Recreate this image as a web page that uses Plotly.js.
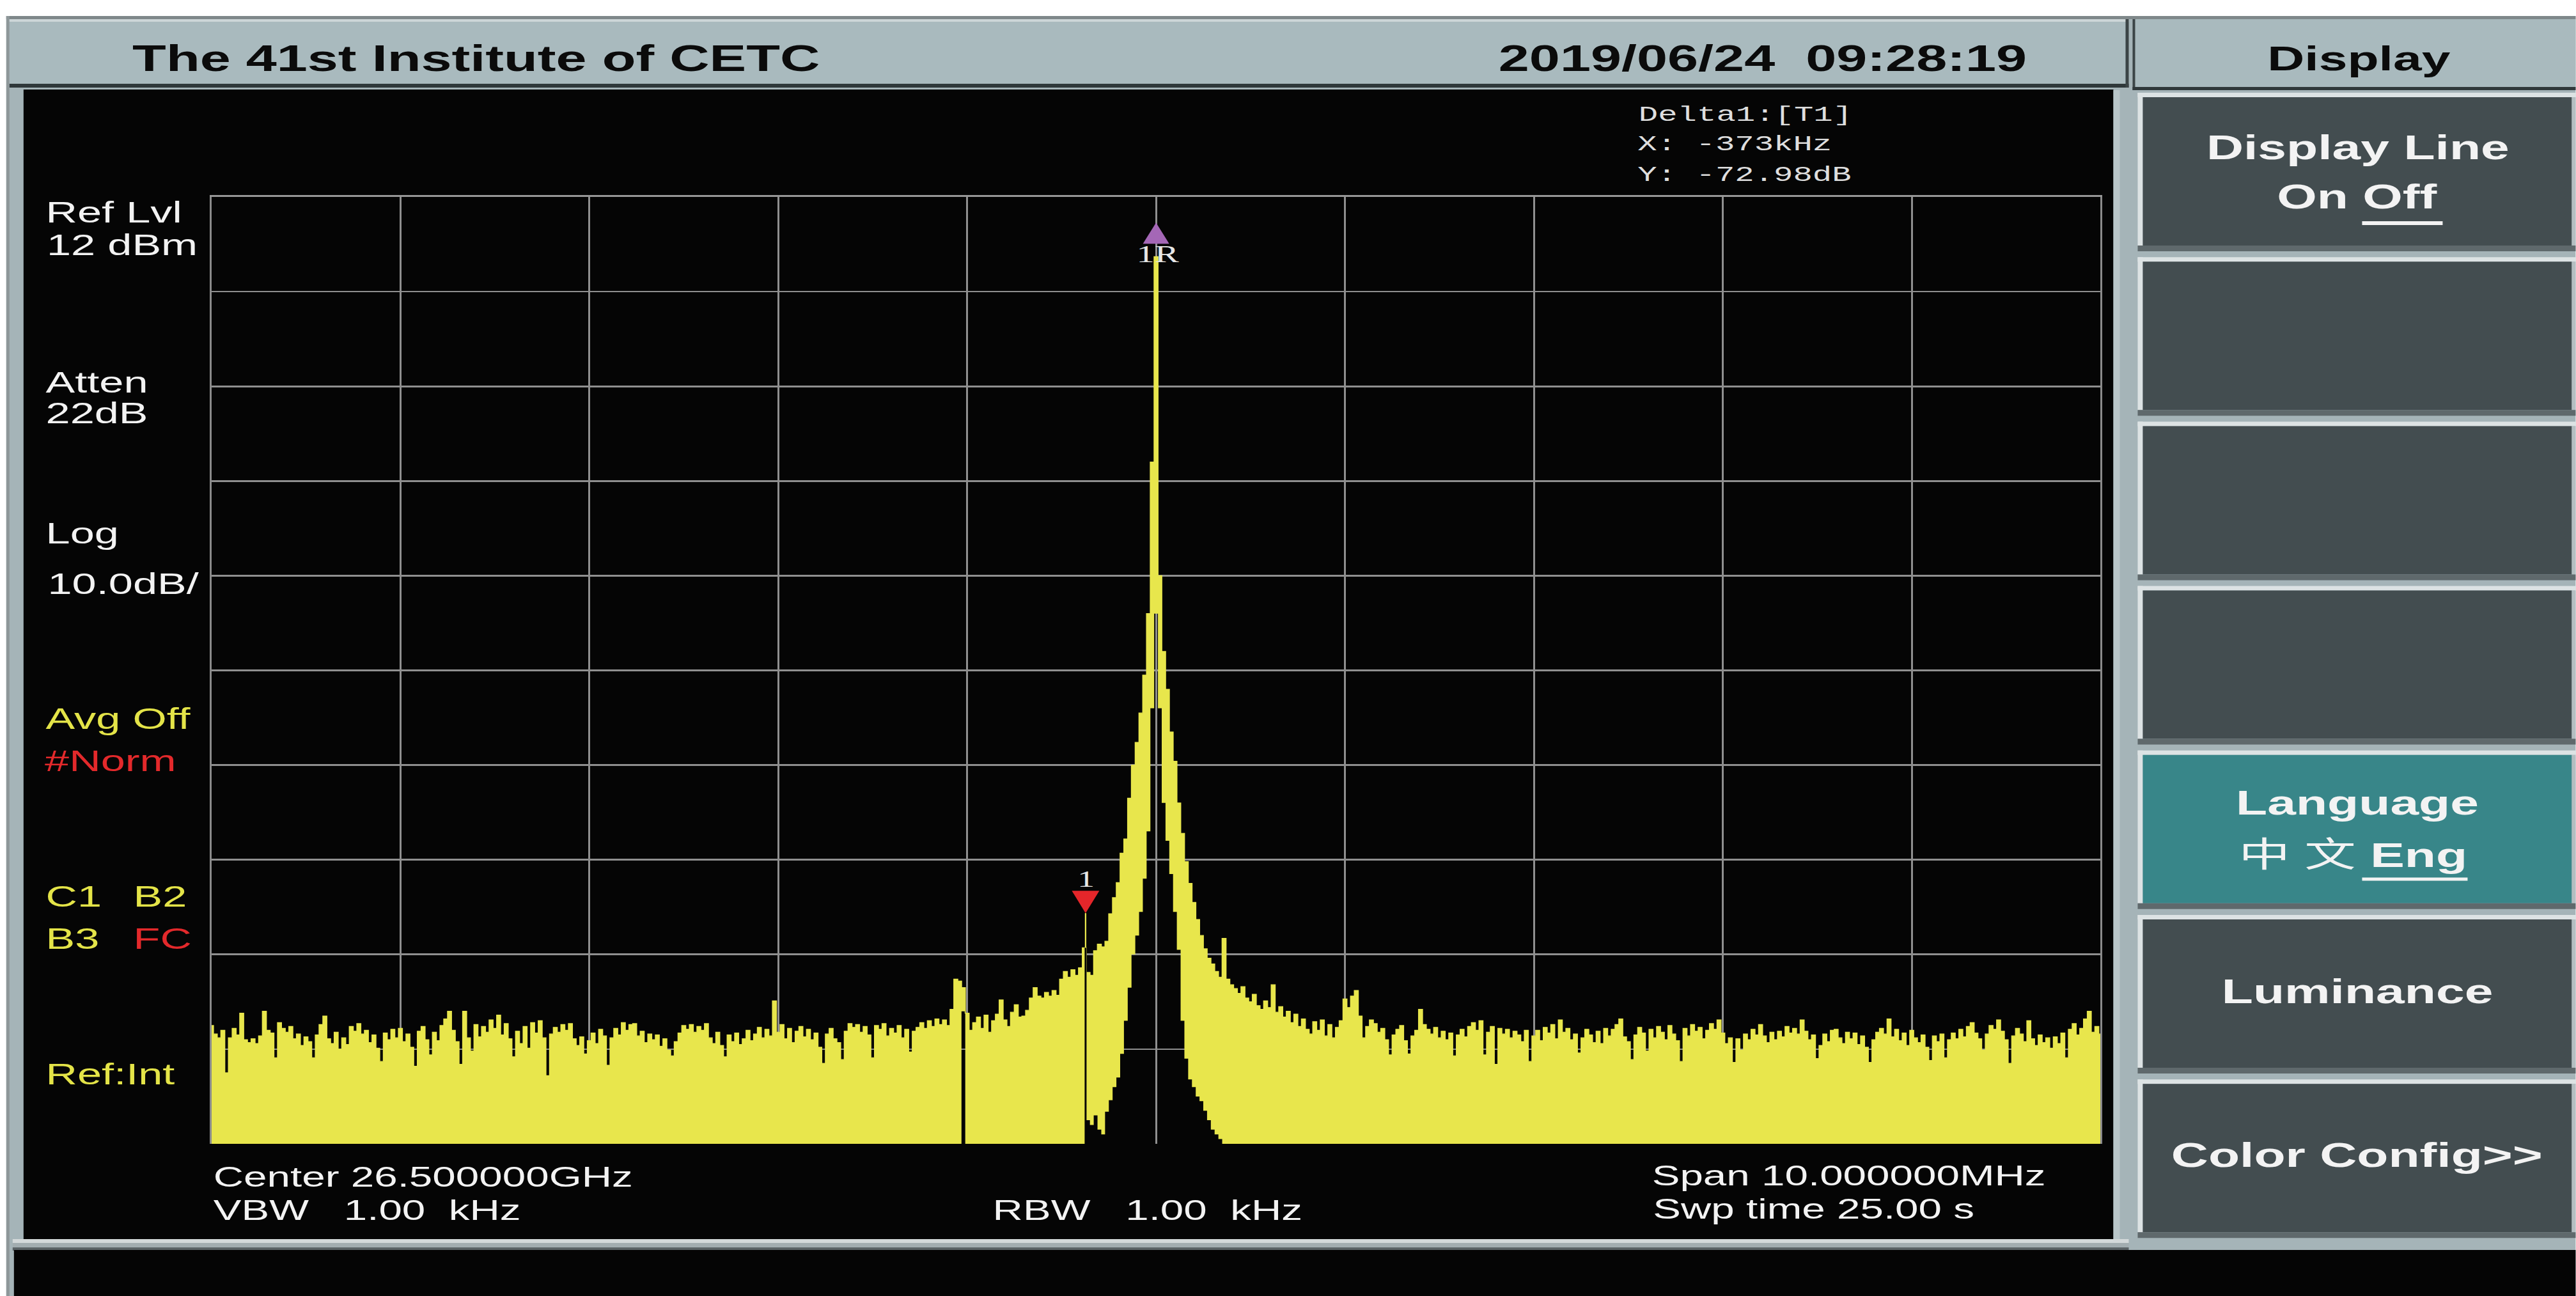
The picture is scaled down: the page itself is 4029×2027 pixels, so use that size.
<!DOCTYPE html>
<html>
<head>
<meta charset="utf-8">
<script src="https://cdn.plot.ly/plotly-3.0.1.min.js"></script>
<style>
html,body{margin:0;padding:0;background:#ffffff;overflow:hidden}
#wrap{width:4029px;height:2027px;overflow:hidden;position:relative}
#chart{width:2704px;height:2027px;position:absolute;left:0;top:0;transform-origin:0 0}
</style>
</head>
<body>
<div id="wrap"><div id="chart"></div></div>
<script>
const centerGHz = 26.5;
const spanMHz = 10;
const refLevelDbm = 12;
const dbPerDiv = 10;
const sweepStartMHz = -5;
const sweepStepMHz = 0.02;
const sweepTimeS = 25;
const rbwKHz = 1;
const vbwKHz = 1;

// upper envelope of the trace, dBm, one value per sweep point
const levelLeft = [
 -75.5,-76.4,-76.8,-76.0,-80.5,-76.8,-75.8,-76.5,-74.2,-77.0,
 -77.3,-76.9,-77.4,-76.6,-74.0,-76.0,-76.3,-78.9,-75.2,-75.8,
 -76.2,-75.6,-76.9,-76.4,-77.6,-76.7,-77.2,-78.9,-76.5,-75.4,
 -74.5,-76.9,-77.4,-76.2,-78.0,-76.8,-77.5,-75.6,-76.1,-75.3,
 -76.4,-76.0,-77.3,-76.5,-77.9,-79.3,-76.3,-77.0,-75.9,-76.8,
 -75.8,-77.2,-76.4,-77.8,-79.8,-76.1,-75.6,-77.0,-78.6,-76.2,
 -77.1,-75.5,-74.8,-74.0,-76.0,-77.2,-79.6,-74.0,-76.8,-78.2,
 -75.4,-76.7,-75.6,-76.2,-74.9,-75.8,-74.4,-76.5,-75.3,-76.9,
 -78.8,-76.1,-77.4,-75.6,-77.9,-75.2,-76.3,-75.0,-76.8,-80.8,
 -76.4,-75.7,-76.2,-75.4,-76.0,-75.3,-76.9,-77.6,-76.7,-78.5,
 -77.1,-76.3,-77.4,-75.9,-76.6,-79.7,-76.8,-75.8,-76.5,-75.2,
 -76.0,-75.4,-75.3,-76.6,-76.1,-77.3,-76.4,-77.0,-76.5,-77.7,
 -76.9,-78.1,-78.7,-77.2,-76.3,-75.5,-75.9,-75.4,-76.2,-75.6,
 -76.0,-75.3,-76.8,-77.4,-76.2,-77.6,-78.8,-76.5,-77.2,-76.3,
 -77.5,-76.9,-76.0,-77.1,-76.4,-75.7,-76.8,-75.9,-76.6,-72.9,
 -76.2,-75.4,-76.9,-75.8,-77.3,-76.1,-75.6,-76.7,-75.9,-77.0,
 -76.3,-77.8,-79.5,-76.4,-75.8,-76.9,-77.3,-79.1,-76.1,-75.3,
 -75.7,-75.4,-76.2,-75.6,-76.5,-78.9,-75.5,-75.9,-75.3,-76.6,
 -75.8,-76.3,-75.5,-76.8,-75.9,-78.3,-76.1,-75.7,-75.2,-75.8,
 -75.0,-75.6,-74.8,-75.4,-74.9,-75.5,-73.8,-70.6,-70.8,-71.5,
 -74.2,-76.0,-75.2,-74.6,-75.8,-74.4,-76.2,-75.0,-74.3,-72.8,
 -74.9,-75.6,-74.1,-73.3,-74.6
];
const levelCarrier = [
 -74.5,-73.9,-72.6,-71.5,-72.4,-72.6,-72.0,-72.4,-71.8,-72.3,
 -70.6,-69.8,-70.4,-69.6,-70.2,-69.4,-67.3,-69.9,-70.2,-67.6,
 -66.9,-67.2,-66.6,-63.7,-62.0,-60.4,-57.3,-55.8,-51.5,-48.0,
 -45.6,-42.5,-38.5,-32.0,-16.0,5.7,-28.0,-36.0,-40.0,-44.5,
 -47.6,-52.0,-55.2,-58.2,-60.5,-62.5,-64.3,-66.0,-67.4,-68.4,
 -69.0,-69.8,-70.4,-66.3,-70.6,-71.2,-71.6,-72.1,-71.4,-72.6,
 -73.0,-72.2,-73.4,-73.8,-72.9,-73.6,-71.2,-74.1,-73.5,-74.6,
 -74.0,-75.2,-74.3,-75.6,-74.8,-75.9,-76.4,-75.1,-76.0,-74.9,
 -76.6,-75.4,-76.8,-75.7,-75.0,-72.7,-73.6,-72.4,-71.8,-74.5
];
const levelRight = [
 -76.8,-75.6,-74.9,-75.3,-76.2,-75.8,-77.0,-78.6,-76.5,-75.9,
 -75.5,-77.1,-78.5,-76.6,-76.0,-73.8,-75.4,-75.9,-76.4,-75.7,
 -76.8,-76.1,-77.0,-76.3,-78.7,-76.5,-75.9,-76.7,-75.6,-75.2,
 -76.0,-75.0,-78.6,-76.2,-75.6,-79.6,-75.8,-76.4,-75.9,-76.8,
 -76.1,-76.5,-77.2,-76.0,-79.3,-76.6,-76.0,-77.1,-75.7,-76.3,
 -75.4,-76.9,-74.9,-76.2,-75.8,-77.0,-76.4,-78.4,-76.8,-75.9,
 -76.5,-77.3,-76.1,-77.4,-75.8,-76.6,-75.9,-75.4,-74.8,-76.7,
 -77.2,-79.1,-76.5,-75.7,-76.3,-78.2,-75.9,-76.8,-75.6,-76.2,
 -77.0,-75.5,-76.4,-77.1,-79.3,-75.8,-76.6,-75.4,-76.1,-75.7,
 -76.9,-76.0,-75.3,-75.9,-74.9,-76.3,-77.4,-76.8,-79.4,-76.9,
 -78.1,-76.4,-77.0,-75.9,-76.5,-75.4,-76.6,-77.3,-76.2,-77.0,
 -76.1,-76.7,-75.6,-76.3,-75.8,-76.4,-74.9,-76.1,-77.0,-76.5,
 -79.0,-77.6,-76.4,-77.2,-76.0,-75.9,-76.8,-77.4,-76.2,-76.9,
 -76.3,-77.5,-76.6,-77.8,-79.4,-77.0,-76.2,-75.8,-76.4,-74.8,
 -76.7,-75.9,-77.1,-76.3,-77.6,-76.0,-76.8,-77.3,-76.5,-77.8,
 -79.2,-76.6,-77.2,-76.4,-78.9,-77.0,-76.3,-76.9,-75.9,-76.7,
 -75.6,-75.2,-76.3,-76.9,-78.1,-76.4,-75.5,-75.9,-74.9,-76.1,
 -77.0,-79.5,-76.6,-75.8,-76.4,-77.2,-75.0,-76.9,-77.6,-76.5,
 -77.3,-76.8,-77.9,-76.7,-77.4,-76.3,-78.9,-75.9,-75.3,-76.5,
 -75.8,-74.8,-74.0,-76.2,-75.6,-76.4
];
// lower envelope of the trace (black gap under the carrier), dBm
const floorFreqMHz = [
 -5,-1.04,-1.02,-1.00,-0.40,-0.38,
 -0.36,-0.34,-0.32,-0.30,-0.28,-0.26,-0.24,-0.22,-0.20,-0.18,
 -0.16,-0.14,-0.12,-0.10,-0.08,-0.06,-0.04,-0.02,0,0.02,
 0.04,0.06,0.08,0.10,0.12,0.14,0.16,0.18,0.20,0.22,
 0.24,0.26,0.28,0.30,0.32,0.34,0.36,0.38,5
];
const floorLevelDbm = [
 -100,-100,-74.0,-100,-100,-100,
 -85.5,-86.0,-85.0,-86.5,-87.0,-84.6,-83.4,-82.0,-81.0,-78.5,
 -75.0,-71.5,-68.0,-66.0,-63.5,-60.0,-55.0,-42.0,-32.0,-42.0,
 -52.0,-56.0,-59.5,-63.5,-67.5,-75.0,-79.0,-81.2,-82.0,-83.0,
 -83.5,-84.5,-85.5,-86.5,-87.0,-87.5,-88.5,-100,-100
];
// markers: reference (1R) and delta marker (1)
const markerFreqMHz = [0, -0.373];
const markerLevelDbm = [5.70, -67.28];
const markerNames = ['1R', '1'];

// ---------------- geometry helpers ----------------
const FW = 4029, FH = 2027, W0 = 2704;
const S = FW / W0;                       // the screen capture is stretched horizontally
document.getElementById('chart').style.transform = 'scaleX(' + S + ')';
const PL = 331, PR = 3286, PT = 308, PB = 1789;   // plot area in picture pixels
const px = X => (X - PL) / (PR - PL);
const py = Y => (PB - Y) / (PB - PT);

const traceLevel = levelLeft.concat(levelCarrier, levelRight);
const traceFreq = traceLevel.map((_, i) => +(sweepStartMHz + i * sweepStepMHz).toFixed(3));
const yTop = refLevelDbm, yBottom = refLevelDbm - 10 * dbPerDiv;

const YEL = '#e8e64c', YTXT = '#e4e448', RED = '#e3292b', WHITE = '#f3f3f3';
const SANS = 'Liberation Sans, Arial, sans-serif';
const MONO = 'Liberation Mono, Courier New, monospace';
const SERIF = 'Liberation Serif, Times New Roman, serif';
const CJK = 'Liberation Sans, Noto Sans CJK SC, sans-serif';

// ---------------- traces ----------------
const data = [
  {x: floorFreqMHz, y: floorLevelDbm, type: 'scatter', mode: 'lines',
   line: {width: 0, shape: 'hvh', color: YEL}, hoverinfo: 'skip', showlegend: false},
  {x: traceFreq, y: traceLevel, type: 'scatter', mode: 'lines', fill: 'tonexty', fillcolor: YEL,
   line: {width: 1.2, shape: 'hvh', color: YEL}, hoverinfo: 'skip', showlegend: false},
  {x: [markerFreqMHz[1], markerFreqMHz[1]], y: [yBottom - 5, markerLevelDbm[1]], type: 'scatter', mode: 'lines',
   line: {width: 2, color: '#050505'}, hoverinfo: 'skip', showlegend: false}
];

// ---------------- screen furniture ----------------
const shapes = [];
function R(X0, Y0, X1, Y1, c) {
  shapes.push({type: 'rect', xref: 'paper', yref: 'paper', x0: px(X0), x1: px(X1), y0: py(Y1), y1: py(Y0),
               fillcolor: c, line: {width: 0}, layer: 'below'});
}
const FRAME = '#a5b4b8', HEAD = '#a9babe', DARK = '#2f383a', BLACK = '#050505';
const BTN = '#434d50', TEAL = '#388689';
R(10, 25, FW, FH, FRAME);
R(10, 25, FW, 30, '#7f888a');
R(10, 25, 15, FH, '#8e9799');
R(15, 30, 3330, 137, HEAD);
R(15, 30, 3330, 34, '#cdd6d8');
R(15, 131, 3330, 137, DARK);
R(3325, 30, 3330, 137, '#3b4446');
R(3336, 30, FW, 141, HEAD);
R(3336, 30, 3340, 141, '#3b4446');
R(3336, 136, FW, 141, DARK);
R(37, 140, 3306, 1938, BLACK);
R(3306, 141, 3316, 1952, '#bac7ca');
R(20, 1938, 3330, 1944, '#d3d9da');
R(20, 1944, 3330, 1951, '#a2adb0');
R(20, 1951, 3330, 1956, '#5a6366');
R(22, 1955, FW, FH, BLACK);
for (let i = 0; i < 7; i++) {
  const top = 152 + 257.2 * i, bot = top + 232;
  R(3344, top - 7, FW, top, '#dde3e4');
  R(3344, top - 7, 3352, bot, '#dde3e4');
  R(3352, top, 4023, bot, i === 4 ? TEAL : BTN);
  R(4023, top, FW, bot, '#b4bec1');
  R(3344, bot, FW, bot + 9, '#5f696c');
}
function HL(X0, X1, Y, w) {
  shapes.push({type: 'line', xref: 'paper', yref: 'paper', x0: px(X0), x1: px(X1), y0: py(Y), y1: py(Y),
               line: {color: WHITE, width: w}, layer: 'below'});
}
HL(3695, 3821, 349, 6);     // underline "Off"
HL(3695, 3860, 1375, 5);    // underline "Eng"

// marker symbols (pixel-sized, anchored on the marker data points)
shapes.push({type: 'path', xref: 'x', yref: 'y', xsizemode: 'pixel', ysizemode: 'pixel',
  xanchor: markerFreqMHz[1], yanchor: markerLevelDbm[1], path: 'M-14.4,89L14.4,89L0,54Z',
  fillcolor: '#e5262a', line: {width: 0}, layer: 'above'});
shapes.push({type: 'line', xref: 'x', yref: 'y', ysizemode: 'pixel', yanchor: markerLevelDbm[1],
  x0: markerFreqMHz[1], x1: markerFreqMHz[1], y0: 0, y1: 54, line: {color: YEL, width: 1.5}, layer: 'above'});
shapes.push({type: 'path', xref: 'x', yref: 'y', xsizemode: 'pixel', ysizemode: 'pixel',
  xanchor: markerFreqMHz[0], yanchor: markerLevelDbm[0], path: 'M-13.8,20L13.8,20L0,53Z',
  fillcolor: '#a467b6', line: {width: 0}, layer: 'above'});

// ---------------- texts ----------------
const annotations = [];
function T(text, X, Yc, size, color, anchor, family) {
  annotations.push({text: text, xref: 'paper', yref: 'paper', x: px(X), y: py(Yc),
    xanchor: anchor || 'left', yanchor: 'middle', align: anchor === 'center' ? 'center' : 'left',
    showarrow: false, borderpad: 0, font: {family: family || SANS, size: size, color: color}});
}
const NB = '\u00a0';
T('<b>The 41st Institute of CETC</b>', 206, 90.5, 58, '#0b0b0b');
T('<b>2019/06/24' + NB + NB + '09:28:19</b>', 2343, 90.5, 58, '#0b0b0b');
T('<b>Display</b>', 3690, 91.5, 54, '#0b0b0b', 'center');
T('<b>Display Line</b>', 3688, 230, 54, WHITE, 'center');
T('<b>On Off</b>', 3688, 307, 54, WHITE, 'center');
T('<b>Language</b>', 3688, 1255, 54, WHITE, 'center');
T('中' + NB + '文' + NB + '<b>Eng</b>', 3681, 1337, 54, WHITE, 'center', CJK);
T('<b>Luminance</b>', 3688, 1550, 54, WHITE, 'center');
T('<b>Color Config&gt;&gt;</b>', 3687, 1806, 54, WHITE, 'center');

T('Ref Lvl', 70, 332, 46, WHITE);
T(refLevelDbm + ' dBm', 72, 383, 46, WHITE);
T('Atten', 70, 598, 46, WHITE);
T('22dB', 70, 646, 46, WHITE);
T('Log', 70, 834, 46, WHITE);
T(dbPerDiv.toFixed(1) + 'dB/', 73, 913, 46, WHITE);
T('Avg Off', 70, 1124, 46, YTXT);
T('#Norm', 68, 1190, 46, RED);
T('C1', 70, 1402, 46, YTXT);
T('B2', 208, 1402, 46, YTXT);
T('B3', 70, 1468, 46, YTXT);
T('FC', 208, 1468, 46, RED);
T('Ref:Int', 70, 1680, 46, YTXT);

T('Center ' + centerGHz.toFixed(6) + 'GHz', 332, 1840, 44, WHITE);
T('VBW' + NB + NB + NB + vbwKHz.toFixed(2) + NB + NB + 'kHz', 333, 1892, 44, WHITE);
T('RBW' + NB + NB + NB + rbwKHz.toFixed(2) + NB + NB + 'kHz', 1552, 1892, 44, WHITE);
T('Span ' + spanMHz.toFixed(6) + 'MHz', 2583, 1838, 44, WHITE);
T('Swp time ' + sweepTimeS.toFixed(2) + ' s', 2584, 1891, 44, WHITE);

const dxK = Math.round((markerFreqMHz[1] - markerFreqMHz[0]) * 1000);
const dyDb = (markerLevelDbm[1] - markerLevelDbm[0]).toFixed(2);
T('Delta1:[T1]', 2562, 180, 34, '#dedede', 'left', MONO);
T('X:' + NB + dxK + 'kHz', 2560, 226, 34, '#dedede', 'left', MONO);
T('Y:' + NB + dyDb + 'dB', 2560, 274, 34, '#dedede', 'left', MONO);

annotations.push({text: markerNames[0], xref: 'x', yref: 'y', x: markerFreqMHz[0], y: markerLevelDbm[0],
  xshift: 2, yshift: 4, xanchor: 'center', yanchor: 'middle', showarrow: false, borderpad: 0,
  font: {family: SERIF, size: 38, color: '#e6e6e6'}});
annotations.push({text: markerNames[1], xref: 'x', yref: 'y', x: markerFreqMHz[1], y: markerLevelDbm[1],
  yshift: 107, xanchor: 'center', yanchor: 'middle', showarrow: false, borderpad: 0,
  font: {family: SERIF, size: 36, color: '#e6e6e6'}});

// ---------------- layout ----------------
const GRID = '#8f8f8f';
const layout = {
  width: W0, height: FH, autosize: false,
  margin: {l: PL / S, r: (FW - PR) / S, t: PT, b: FH - PB, pad: 0},
  paper_bgcolor: '#ffffff', plot_bgcolor: BLACK,
  showlegend: false, hovermode: false,
  font: {family: SANS},
  xaxis: {range: [-spanMHz / 2, spanMHz / 2], tick0: -spanMHz / 2, dtick: spanMHz / 10,
          showticklabels: false, ticks: '', showgrid: true, gridcolor: GRID, gridwidth: 2,
          zeroline: false, showline: true, side: 'top', mirror: false, linecolor: '#979797', linewidth: 3,
          fixedrange: true},
  yaxis: {range: [yBottom, yTop], tick0: yTop, dtick: dbPerDiv,
          showticklabels: false, ticks: '', showgrid: true, gridcolor: GRID, gridwidth: 2.7,
          zeroline: false, showline: true, mirror: true, linecolor: '#8a8a8a', linewidth: 2,
          fixedrange: true},
  shapes: shapes,
  annotations: annotations
};

Plotly.newPlot('chart', data, layout, {staticPlot: true, displayModeBar: false});
</script>
</body>
</html>
